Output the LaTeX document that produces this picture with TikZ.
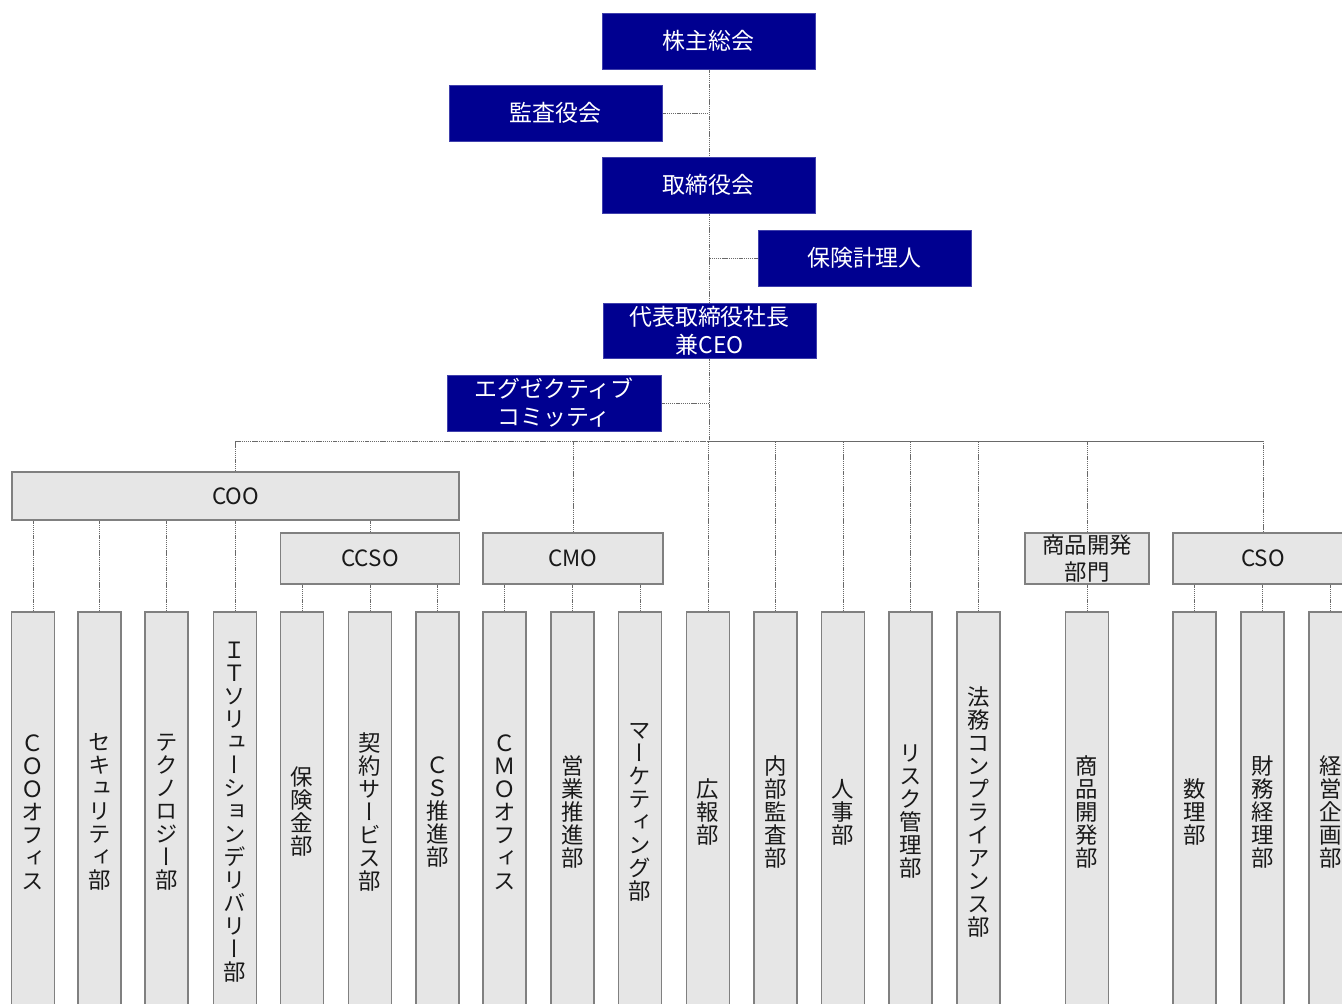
\documentclass[tikz,border=0pt]{standalone}
\usepackage{fontspec}
\usetikzlibrary{backgrounds}
\setmainfont{Noto Sans CJK JP}
\newfontfamily\vfont[RawFeature={+vert}]{Noto Sans CJK JP}
\definecolor{navy}{RGB}{0,0,144}
\definecolor{boxgray}{RGB}{230,230,230}
\definecolor{edgegray}{RGB}{128,128,128}
\definecolor{linegray}{RGB}{105,105,105}
\begin{document}
\begin{tikzpicture}[x=0.75pt,y=-0.75pt,
  topbox/.style={fill=navy, draw=navy!75!white, line width=0.5pt, text=white,
    minimum width=159.75pt, minimum height=42pt, inner sep=0pt, align=center,
    font=\fontsize{17.2}{21}\selectfont},
  midbox/.style={fill=boxgray, draw=edgegray, line width=1.1pt, text=black!90,
    minimum width=134.25pt, minimum height=38.25pt, inner sep=0pt, align=center,
    font=\fontsize{16.8}{20.25}\selectfont},
  dept/.style={fill=boxgray, draw=edgegray, line width=1.1pt, text=black!90,
    minimum width=32.25pt, minimum height=300pt, inner sep=0pt, align=center,
    font=\vfont\fontsize{16.8}{17.25}\selectfont},
  conn/.style={draw=linegray, line width=0.6pt, dash pattern=on 1pt off 0.6pt},
  busr/.style={draw=linegray, line width=0.75pt}]
\useasboundingbox (0,0) rectangle (1342,1003);
\clip (0,0) rectangle (1342,1003);

% top governance boxes
\node[topbox] (gms) at (708.5,41) {株主総会};
\node[topbox] (audit) at (555.5,113) {監査役会};
\node[topbox] (board) at (708.5,185) {取締役会};
\node[topbox] (actuary) at (864.5,258) {保険計理人};
\node[topbox, minimum height=41.25pt] (ceo) at (709.5,330.5) {代表取締役社長\\兼CEO};
\node[topbox, minimum width=160.5pt] (exec) at (554,403) {エグゼクティブ\\コミッティ};
\coordinate (hub) at (709,441);

% middle boxes
\node[midbox, minimum width=335.25pt, minimum height=36pt] (coo) at (235.5,496) {COO};
\node[midbox] (ccso) at (370,558.5) {CCSO};
\node[midbox, minimum width=135pt] (cmo) at (573,558.5) {CMO};
\node[midbox, minimum width=93pt] (pdd) at (1087,558.5) {商品開発\\部門};
\node[midbox, minimum width=135pt] (cso) at (1263,558.5) {CSO};

% departments
\node[dept] (d1) at (33,812) {Ｃ\\Ｏ\\Ｏ\\オ\\フ\\ィ\\ス};
\node[dept] (d2) at (99.5,812) {セ\\キ\\ュ\\リ\\テ\\ィ\\部};
\node[dept] (d3) at (166.5,812) {テ\\ク\\ノ\\ロ\\ジ\\ー\\部};
\node[dept] (d4) at (235,812) {Ｉ\\Ｔ\\ソ\\リ\\ュ\\ー\\シ\\ョ\\ン\\デ\\リ\\バ\\リ\\ー\\部};
\node[dept] (d5) at (302,812) {保\\険\\金\\部};
\node[dept] (d6) at (370,812) {契\\約\\サ\\ー\\ビ\\ス\\部};
\node[dept] (d7) at (437.5,812) {Ｃ\\Ｓ\\推\\進\\部};
\node[dept] (d8) at (504.5,812) {Ｃ\\Ｍ\\Ｏ\\オ\\フ\\ィ\\ス};
\node[dept] (d9) at (572.5,812) {営\\業\\推\\進\\部};
\node[dept] (d10) at (640,812) {マ\\ー\\ケ\\テ\\ィ\\ン\\グ\\部};
\node[dept] (d11) at (708,812) {広\\報\\部};
\node[dept] (d12) at (775.5,812) {内\\部\\監\\査\\部};
\node[dept] (d13) at (843,812) {人\\事\\部};
\node[dept] (d14) at (910.5,812) {リ\\ス\\ク\\管\\理\\部};
\node[dept] (d15) at (978.5,812) {法\\務\\コ\\ン\\プ\\ラ\\イ\\ア\\ン\\ス\\部};
\node[dept] (d16) at (1087,812) {商\\品\\開\\発\\部};
\node[dept] (d17) at (1194.5,812) {数\\理\\部};
\node[dept] (d18) at (1262.5,812) {財\\務\\経\\理\\部};
\node[dept] (d19) at (1330.5,812) {経\\営\\企\\画\\部};

\begin{scope}[on background layer]
% trunk and side branches
\draw[conn] (gms.south -| hub) -- (hub);
\draw[conn] (audit.east) -- (audit.east -| hub);
\draw[conn] (actuary.west) -- (actuary.west -| hub);
\draw[conn] (exec.east) -- (exec.east -| hub);

% bus
\draw[conn] (coo.north) |- (hub);
\draw[conn] (cmo.north) -- (cmo.north |- hub);
\draw[busr] (hub) -- (hub -| cso.north);
\draw[conn] (hub -| cso.north) -- (cso.north);
\draw[conn] (pdd.north) -- (pdd.north |- hub);
\foreach \d in {d11,d12,d13,d14,d15}
  \draw[conn] (\d.north) -- (\d.north |- hub);

% COO children
\foreach \d in {d1,d2,d3,d4}
  \draw[conn] (\d.north) -- (\d.north |- coo.south);
\draw[conn] (ccso.north) -- (ccso.north |- coo.south);
% CCSO children
\foreach \d in {d5,d6,d7}
  \draw[conn] (\d.north) -- (\d.north |- ccso.south);
% CMO children
\foreach \d in {d8,d9,d10}
  \draw[conn] (\d.north) -- (\d.north |- cmo.south);
% product development
\draw[conn] (d16.north) -- (pdd.south);
% CSO children
\foreach \d in {d17,d18,d19}
  \draw[conn] (\d.north) -- (\d.north |- cso.south);
\end{scope}
\end{tikzpicture}
\end{document}
